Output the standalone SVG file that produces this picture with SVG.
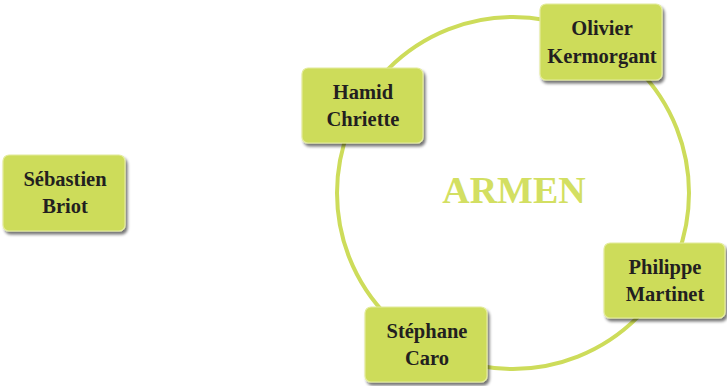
<svg xmlns="http://www.w3.org/2000/svg" width="727" height="386" viewBox="0 0 727 386">
  <defs>
    <filter id="shadow" x="-10%" y="-10%" width="125%" height="130%">
      <feGaussianBlur in="SourceAlpha" stdDeviation="1.5"/>
      <feOffset dx="2" dy="3" result="b"/>
      <feComponentTransfer><feFuncA type="linear" slope="0.55"/></feComponentTransfer>
      <feMerge><feMergeNode/><feMergeNode in="SourceGraphic"/></feMerge>
    </filter>
  </defs>
  <style>
    .box { fill: #cddc5a; stroke: #e4ec9c; stroke-width: 1.2; filter: url(#shadow); }
    .lbl { font-family: "Liberation Serif", "DejaVu Serif", serif; font-weight: bold; font-size: 20.5px; fill: #231f20; text-anchor: middle; }
    .ring { fill: none; stroke: #cddc5a; stroke-width: 4; }
    .title { font-family: "Liberation Serif", "DejaVu Serif", serif; font-weight: bold; font-size: 38px; fill: #d3df62; text-anchor: middle; }
  </style>
  <rect width="727" height="386" fill="#ffffff"/>

  <g id="connectors">
    <circle class="ring" cx="513" cy="193" r="176"/>
  </g>

  <g id="armen">
    <text class="title" x="514" y="203">ARMEN</text>
  </g>

  <g id="sebastien-briot">
    <rect class="box" x="3" y="155" width="122" height="76" rx="6"/>
    <text class="lbl" x="65" y="186">Sébastien</text>
    <text class="lbl" x="65" y="213">Briot</text>
  </g>

  <g id="hamid-chriette">
    <rect class="box" x="302" y="68" width="121" height="75" rx="6"/>
    <text class="lbl" x="363" y="99">Hamid</text>
    <text class="lbl" x="363" y="126">Chriette</text>
  </g>

  <g id="olivier-kermorgant">
    <rect class="box" x="540" y="4" width="122" height="76" rx="6"/>
    <text class="lbl" x="602" y="35">Olivier</text>
    <text class="lbl" x="602" y="63">Kermorgant</text>
  </g>

  <g id="philippe-martinet">
    <rect class="box" x="604" y="243" width="121" height="75" rx="6"/>
    <text class="lbl" x="665" y="274">Philippe</text>
    <text class="lbl" x="665" y="301">Martinet</text>
  </g>

  <g id="stephane-caro">
    <rect class="box" x="365" y="307" width="122" height="75" rx="6"/>
    <text class="lbl" x="427" y="338">Stéphane</text>
    <text class="lbl" x="427" y="365">Caro</text>
  </g>
</svg>
